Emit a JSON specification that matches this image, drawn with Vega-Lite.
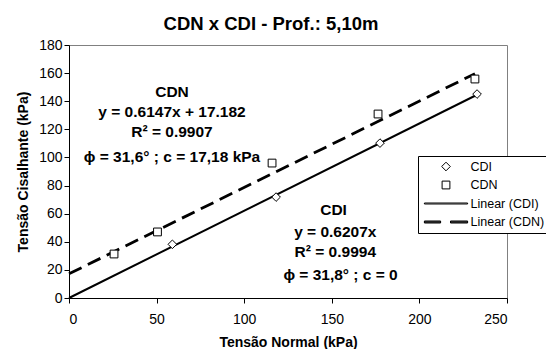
{
  "$schema": "https://vega.github.io/schema/vega-lite/v6.json",
  "width": 438,
  "height": 253,
  "autosize": {"type": "none"},
  "padding": {"left": 69, "top": 45, "right": 39, "bottom": 51},
  "background": "white",
  "config": {
    "font": "Liberation Sans",
    "view": {"stroke": "#808080", "strokeWidth": 1},
    "axis": {"grid": false, "domainColor": "black", "tickColor": "black", "labelColor": "black", "titleColor": "black", "labelFont": "Liberation Sans", "titleFont": "Liberation Sans", "labelFontSize": 14, "titleFontSize": 14, "titleFontWeight": "bold", "tickSize": 5, "domainWidth": 1, "tickWidth": 1},
    "legend": {
      "orient": "none",
      "legendX": 349,
      "legendY": 111,
      "title": null,
      "strokeColor": "black",
      "fillColor": "white",
      "padding": 4,
      "labelFontSize": 12.5,
      "labelFont": "Liberation Sans",
      "labelColor": "black",
      "labelOffset": 18,
      "symbolOffset": 17.5,
      "symbolSize": 144,
      "symbolStrokeWidth": 1,
      "rowPadding": 5.5
    }
  },
  "title": {"text": "CDN x CDI - Prof.: 5,10m", "fontSize": 18.5, "fontWeight": "bold", "font": "Liberation Sans", "anchor": "middle", "dx": -17, "offset": 5, "color": "black"},
  "datasets": {
    "points": [
      {"x": 59, "y": 38.2, "series": "CDI"},
      {"x": 118.2, "y": 71.8, "series": "CDI"},
      {"x": 177.5, "y": 110.2, "series": "CDI"},
      {"x": 232.9, "y": 145.1, "series": "CDI"},
      {"x": 25.7, "y": 31.3, "series": "CDN"},
      {"x": 50.5, "y": 47, "series": "CDN"},
      {"x": 115.9, "y": 96, "series": "CDN"},
      {"x": 176.4, "y": 130.9, "series": "CDN"},
      {"x": 231.7, "y": 155.8, "series": "CDN"}
    ],
    "trend": [
      {"x": 0, "y": 0, "series": "Linear (CDI)"},
      {"x": 232.9, "y": 144.6, "series": "Linear (CDI)"},
      {"x": 0, "y": 17.18, "series": "Linear (CDN)"},
      {"x": 231.7, "y": 159.6, "series": "Linear (CDN)"}
    ],
    "notes": [
      {"x": 58.8, "y": 146.5, "label": "CDN"},
      {"x": 58.8, "y": 132.3, "label": "y = 0.6147x + 17.182"},
      {"x": 58.8, "y": 118.1, "label": "R² = 0.9907"},
      {"x": 58.8, "y": 100.3, "label": "ϕ = 31,6° ; c = 17,18 kPa"},
      {"x": 151, "y": 62.6, "label": "CDI"},
      {"x": 152, "y": 46.9, "label": "y = 0.6207x"},
      {"x": 152, "y": 32.7, "label": "R² = 0.9994"},
      {"x": 155, "y": 16.4, "label": "ϕ = 31,8° ; c = 0"}
    ]
  },
  "encoding": {
    "x": {"field": "x", "type": "quantitative", "scale": {"domain": [0, 250], "nice": false}, "axis": {"values": [0, 50, 100, 150, 200, 250], "title": "Tensão Normal (kPa)", "labelPadding": 9, "titlePadding": 9}},
    "y": {"field": "y", "type": "quantitative", "scale": {"domain": [0, 180], "nice": false}, "axis": {"values": [0, 20, 40, 60, 80, 100, 120, 140, 160, 180], "title": "Tensão Cisalhante (kPa)", "labelPadding": 2, "titlePadding": 8}}
  },
  "layer": [
    {
      "data": {"name": "trend"},
      "transform": [{"filter": "datum.series === 'Linear (CDI)'"}],
      "mark": {"type": "line", "color": "black", "strokeWidth": 2}
    },
    {
      "data": {"name": "trend"},
      "transform": [{"filter": "datum.series === 'Linear (CDN)'"}],
      "mark": {"type": "line", "color": "black", "strokeWidth": 2.8, "strokeDash": [14, 7]}
    },
    {
      "data": {"name": "points"},
      "mark": {"type": "point", "filled": true, "fill": "white", "stroke": "black", "strokeWidth": 1, "size": 144, "opacity": 1},
      "encoding": {
        "shape": {
          "field": "series",
          "type": "nominal",
          "scale": {
            "domain": ["CDI", "CDN", "Linear (CDI)", "Linear (CDN)"],
            "range": [
              "M-0.72,0L0,-0.72L0.72,0L0,0.72Z",
              "M-0.65,-0.65H0.65V0.65H-0.65Z",
              "M-3.6,-0.083H3.6V0.083H-3.6Z",
              "M-3.6,-0.167H-0.9V0H-3.6Z M-3.6,0H-0.9V0.167H-3.6Z M0.75,-0.167H3.6V0H0.75Z M0.75,0H3.6V0.167H0.75Z"
            ]
          }
        }
      }
    },
    {
      "data": {"name": "notes"},
      "mark": {"type": "text", "fontWeight": "bold", "fontSize": 15.5, "font": "Liberation Sans", "align": "center", "baseline": "middle", "color": "black"},
      "encoding": {"text": {"field": "label", "type": "nominal"}}
    }
  ]
}
